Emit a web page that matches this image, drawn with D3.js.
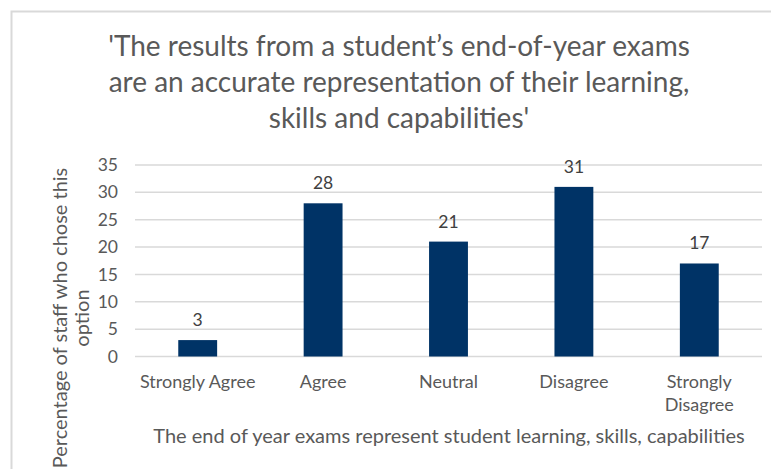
<!DOCTYPE html>
<html><head><meta charset="utf-8">
<script src="https://cdn.jsdelivr.net/npm/d3@7"></script>
<style>html,body{margin:0;padding:0;background:#fff;}svg{display:block;font-family:Lato,"Open Sans",sans-serif;}</style>
</head><body>
<svg id="c" width="771" height="469"></svg>
<script>
const categories = ["Strongly Agree","Agree","Neutral","Disagree","Strongly Disagree"];
const values = [3,28,21,31,17];
const yTicks = [0,5,10,15,20,25,30,35];
const titleLines = ["'The results from a student\u2019s end-of-year exams","are an accurate representation of their learning,","skills and capabilities'"];
const yTitleLines = ["Percentage of staff who chose this","option"];
const xTitle = "The end of year exams represent student learning, skills, capabilities";

const svg = d3.select("#c");
const textColor = "#595959";
const m = {left:135, right:762, top:165, bottom:356.5};

svg.append("rect").attr("x",11.5).attr("y",11.5).attr("width",780).attr("height",480)
  .attr("fill","#fff").attr("stroke","#d9d9d9").attr("stroke-width",2);

const x = d3.scaleBand().domain(categories).range([m.left,m.right]).paddingInner(0.69).paddingOuter(0.345);
const y = d3.scaleLinear().domain([0,35]).range([m.bottom,m.top]);

// gridlines
svg.append("g").selectAll("line").data(yTicks).join("line")
  .attr("x1",m.left).attr("x2",m.right).attr("y1",d=>y(d)).attr("y2",d=>y(d))
  .attr("stroke","#d9d9d9").attr("stroke-width",1.5);

// y axis labels
const yAxis = d3.axisLeft(y).tickValues(yTicks).tickSize(0).tickPadding(0);
const ga = svg.append("g").attr("transform",`translate(${m.left-17},0)`).call(yAxis);
ga.select(".domain").remove();
ga.selectAll("text").attr("fill",textColor).style("font-size","17.5px").style("font-family","Lato");

// bars
svg.append("g").selectAll("rect").data(values).join("rect")
  .attr("x",(d,i)=>x(categories[i])).attr("width",x.bandwidth())
  .attr("y",d=>y(d)).attr("height",d=>y(0)-y(d)).attr("fill","#003366");

// data labels
svg.append("g").selectAll("text").data(values).join("text")
  .attr("x",(d,i)=>x(categories[i])+x.bandwidth()/2).attr("y",d=>y(d)-14)
  .attr("text-anchor","middle").attr("fill","#404040").style("font-size","17.5px").text(d=>d);

// category labels
const cx = svg.append("g");
categories.forEach((c,i)=>{
  const cxp = x(c)+x.bandwidth()/2;
  const lines = c==="Strongly Disagree" ? ["Strongly","Disagree"] : [c];
  lines.forEach((l,j)=>{
    cx.append("text").attr("x",cxp).attr("y",388+j*23).attr("text-anchor","middle")
      .attr("fill",textColor).style("font-size","18px").text(l);
  });
});

// x title
svg.append("text").attr("x",449).attr("y",443).attr("text-anchor","middle")
  .attr("fill",textColor).style("font-size","20px").text(xTitle);

// y title
const yt = svg.append("text").attr("transform","rotate(-90)").attr("text-anchor","middle")
  .attr("fill",textColor).style("font-size","20px");
yTitleLines.forEach((l,j)=>{
  yt.append("tspan").attr("x",-318).attr("y",67+j*22).text(l);
});

// title
titleLines.forEach((l,i)=>{
  svg.append("text").attr("x",399).attr("y",56+i*36).attr("text-anchor","middle")
    .attr("fill",textColor).style("font-size","28px").text(l);
});
</script>
</body></html>
